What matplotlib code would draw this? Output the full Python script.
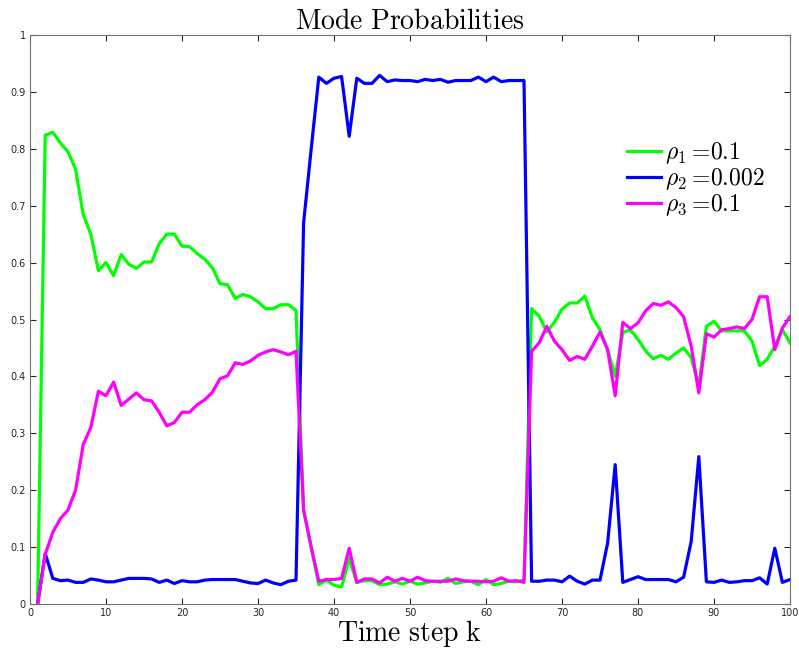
import numpy as np
import matplotlib
matplotlib.use('Agg')
import matplotlib.pyplot as plt

plt.rcParams['mathtext.fontset'] = 'cm'

# time steps
k = np.arange(1, 101)

# rho_1 = 0.1 (green)
p1 = [0.0, 0.824, 0.829, 0.81, 0.795, 0.764, 0.685, 0.65, 0.586, 0.6,
      0.577, 0.614, 0.597, 0.59, 0.601, 0.601, 0.633, 0.65, 0.65, 0.629,
      0.628, 0.616, 0.606, 0.591, 0.563, 0.561, 0.537, 0.544, 0.54, 0.531,
      0.519, 0.519, 0.526, 0.526, 0.516, 0.165, 0.1, 0.034, 0.042, 0.033,
      0.03, 0.08, 0.038, 0.041, 0.041, 0.034, 0.035, 0.039, 0.035, 0.04,
      0.035, 0.037, 0.04, 0.038, 0.045, 0.036, 0.039, 0.04, 0.034, 0.043,
      0.034, 0.036, 0.04, 0.039, 0.042, 0.519, 0.506, 0.478, 0.495, 0.518,
      0.529, 0.529, 0.541, 0.503, 0.482, 0.447, 0.4, 0.477, 0.482, 0.465,
      0.445, 0.431, 0.437, 0.43, 0.441, 0.45, 0.433, 0.383, 0.488, 0.497,
      0.48, 0.48, 0.48, 0.48, 0.462, 0.419, 0.43, 0.453, 0.482, 0.459]

# rho_2 = 0.002 (blue)
p2 = [0.0, 0.089, 0.045, 0.041, 0.042, 0.038, 0.038, 0.044, 0.042, 0.039,
      0.039, 0.042, 0.045, 0.045, 0.045, 0.044, 0.038, 0.042, 0.036, 0.041,
      0.039, 0.039, 0.042, 0.043, 0.043, 0.043, 0.043, 0.04, 0.037, 0.036,
      0.042, 0.037, 0.034, 0.04, 0.042, 0.67, 0.8, 0.926, 0.915, 0.924,
      0.927, 0.822, 0.924, 0.915, 0.915, 0.929, 0.918, 0.921, 0.92, 0.92,
      0.918, 0.922, 0.92, 0.922, 0.917, 0.92, 0.92, 0.92, 0.926, 0.918,
      0.926, 0.918, 0.92, 0.92, 0.92, 0.04, 0.04, 0.042, 0.042, 0.039,
      0.049, 0.04, 0.035, 0.042, 0.042, 0.107, 0.245, 0.038, 0.043, 0.048,
      0.043, 0.043, 0.043, 0.043, 0.039, 0.047, 0.11, 0.259, 0.039, 0.038,
      0.042, 0.038, 0.039, 0.041, 0.041, 0.046, 0.035, 0.098, 0.038, 0.043]

# rho_3 = 0.1 (magenta)
p3 = [0.0, 0.087, 0.126, 0.15, 0.165, 0.2, 0.28, 0.31, 0.374, 0.366,
      0.39, 0.349, 0.36, 0.371, 0.359, 0.357, 0.337, 0.313, 0.319, 0.337,
      0.337, 0.35, 0.359, 0.372, 0.396, 0.401, 0.424, 0.421, 0.427, 0.437,
      0.443, 0.447, 0.443, 0.438, 0.444, 0.165, 0.1, 0.04, 0.043, 0.043,
      0.045, 0.098, 0.038, 0.044, 0.044, 0.037, 0.047, 0.04, 0.045, 0.04,
      0.047, 0.041, 0.04, 0.04, 0.04, 0.044, 0.041, 0.04, 0.04, 0.039,
      0.04, 0.046, 0.04, 0.041, 0.038, 0.444, 0.459, 0.488, 0.462, 0.447,
      0.428, 0.435, 0.43, 0.453, 0.478, 0.447, 0.366, 0.495, 0.484, 0.494,
      0.515, 0.528, 0.525, 0.531, 0.521, 0.505, 0.453, 0.371, 0.475, 0.469,
      0.482, 0.484, 0.487, 0.484, 0.5, 0.54, 0.54, 0.447, 0.485, 0.505]

labels = [r'$\rho_1 = \!0.1$', r'$\rho_2 = \!0.002$', r'$\rho_3 = \!0.1$']

fig = plt.figure(figsize=(7.99, 6.52), dpi=100)
ax = fig.add_axes([30/799, 48/652, 760/799, 569/652])

ax.plot(k, p1, color=(0, 1, 0), lw=2.3, label=labels[0])
ax.plot(k, p2, color=(0, 0, 1), lw=2.3, label=labels[1])
ax.plot(k, p3, color=(1, 0, 1), lw=2.3, label=labels[2])

ax.set_xlim(0, 100)
ax.set_ylim(0, 1)
ax.set_xticks(np.arange(0, 101, 10))
ax.set_yticks(np.arange(0, 1.01, 0.1))
ax.set_yticklabels(['0', '0.1', '0.2', '0.3', '0.4', '0.5', '0.6', '0.7', '0.8', '0.9', '1'])
ax.tick_params(direction='in', top=True, right=True, labelsize=7, length=4, pad=3,
               color='0.15', labelcolor='0.15')
for s in ax.spines.values():
    s.set_color('0.45')

ax.set_title(r'$\mathrm{Mode\ Probabilities}$', fontsize=20, pad=4)
ax.set_xlabel(r'$\mathrm{Time\ step\ k}$', fontsize=20, labelpad=0)

ax.legend(loc='upper right', bbox_to_anchor=(0.985, 0.84), frameon=False,
          fontsize=17, handlelength=1.45, handletextpad=0.15, labelspacing=0.0,
          borderaxespad=0.2)

fig.savefig('out.png', dpi=100)
